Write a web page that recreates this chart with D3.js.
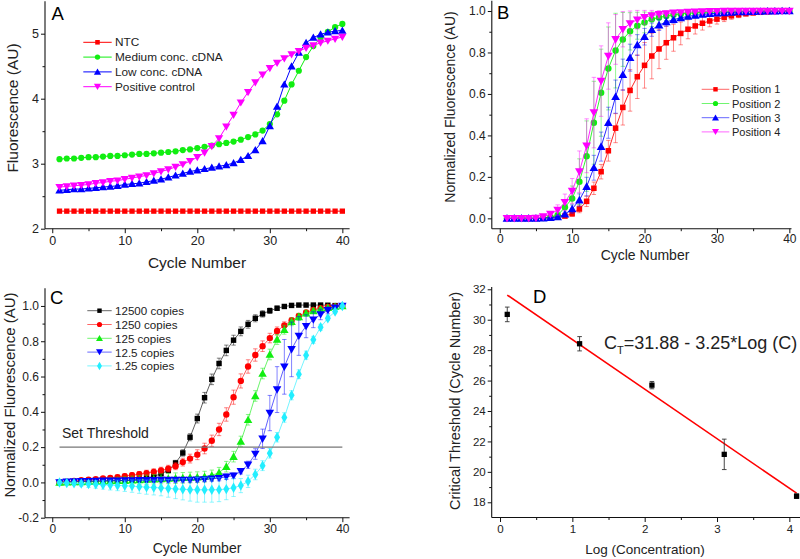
<!DOCTYPE html>
<html><head><meta charset="utf-8">
<script src="https://cdn.jsdelivr.net/npm/d3@7"></script>
<style>body{margin:0;background:#fff}svg{display:block}text{font-family:"Liberation Sans",Arial,Helvetica,sans-serif}</style>
</head><body><svg id="c" width="800" height="559"></svg>
<script>
// ---------- DATA ----------
const cycles = [1,2,3,4,5,6,7,8,9,10,11,12,13,14,15,16,17,18,19,20,21,22,23,24,25,26,27,28,29,30,31,32,33,34,35,36,37,38,39,40];

// Panel A
const labelsA = ["NTC","Medium conc. cDNA","Low conc. cDNA","Positive control"];
const ntc = [2.27,2.27,2.27,2.27,2.27,2.27,2.27,2.27,2.27,2.27,2.27,2.27,2.27,2.27,2.27,2.27,2.27,2.27,2.27,2.27,2.27,2.27,2.27,2.27,2.27,2.27,2.27,2.27,2.27,2.27,2.27,2.27,2.27,2.27,2.27,2.27,2.27,2.27,2.27,2.27];
const mediumConc = [3.07,3.08,3.08,3.09,3.10,3.10,3.11,3.12,3.12,3.13,3.14,3.15,3.15,3.16,3.17,3.18,3.19,3.21,3.22,3.24,3.26,3.28,3.30,3.32,3.34,3.37,3.41,3.45,3.51,3.61,3.76,3.97,4.22,4.43,4.64,4.81,4.94,5.03,5.10,5.15];
const lowConc = [2.59,2.60,2.61,2.61,2.62,2.63,2.64,2.65,2.66,2.68,2.69,2.70,2.72,2.74,2.76,2.79,2.82,2.85,2.88,2.90,2.92,2.94,2.96,2.98,3.01,3.06,3.12,3.21,3.35,3.58,3.88,4.22,4.50,4.71,4.86,4.94,4.99,5.02,5.04,5.05];
const positiveCtrl = [2.64,2.65,2.66,2.67,2.68,2.70,2.71,2.73,2.74,2.76,2.78,2.80,2.82,2.85,2.88,2.91,2.95,2.99,3.04,3.10,3.17,3.27,3.39,3.57,3.75,3.94,4.10,4.25,4.37,4.47,4.55,4.62,4.68,4.73,4.78,4.82,4.86,4.89,4.92,4.95];

// Panel B
const labelsB = ["Position 1","Position 2","Position 3","Position 4"];
const pos1 = [0,0,0,0,0,0.002,0.004,0.007,0.011,0.022,0.045,0.082,0.145,0.225,0.326,0.435,0.535,0.617,0.683,0.738,0.783,0.817,0.847,0.871,0.892,0.912,0.928,0.941,0.952,0.961,0.969,0.977,0.982,0.987,0.991,0.994,0.996,0.998,0.999,1.0];
const pos1Err = [0,0,0,0,0,0,0.003,0.005,0.008,0.012,0.018,0.025,0.03,0.035,0.05,0.07,0.085,0.1,0.105,0.11,0.11,0.095,0.08,0.065,0.055,0.046,0.039,0.033,0.028,0.024,0.02,0.017,0.014,0.011,0.009,0.007,0.005,0.003,0.002,0];
const pos2 = [0,0,0,0,0,0.002,0.005,0.015,0.053,0.096,0.177,0.30,0.461,0.606,0.723,0.809,0.863,0.902,0.929,0.945,0.960,0.969,0.976,0.982,0.986,0.989,0.992,0.994,0.995,0.996,0.997,0.998,0.998,0.999,0.999,0.999,1.0,1.0,1.0,1.0];
const pos2Err = [0,0,0,0,0,0,0.005,0.015,0.035,0.06,0.11,0.17,0.2,0.21,0.2,0.18,0.13,0.09,0.065,0.05,0.035,0.028,0.022,0.017,0.013,0.01,0.008,0.006,0.005,0.004,0.003,0.002,0.002,0.001,0.001,0.001,0,0,0,0];
const pos3 = [0,0,0,0,0,0.001,0.003,0.007,0.02,0.045,0.088,0.153,0.244,0.346,0.461,0.587,0.693,0.775,0.836,0.876,0.910,0.932,0.947,0.958,0.967,0.974,0.979,0.983,0.987,0.989,0.991,0.993,0.995,0.996,0.997,0.998,0.999,0.999,1.0,1.0];
const pos3Err = [0,0,0,0,0,0,0.002,0.005,0.01,0.02,0.03,0.045,0.06,0.07,0.075,0.08,0.075,0.065,0.05,0.04,0.032,0.026,0.02,0.016,0.013,0.01,0.008,0.006,0.005,0.004,0.003,0.002,0.002,0.001,0.001,0,0,0,0,0];
const pos4 = [0,0,0,0,0.001,0.008,0.02,0.04,0.077,0.132,0.225,0.35,0.51,0.662,0.783,0.863,0.912,0.94,0.958,0.97,0.978,0.984,0.988,0.991,0.993,0.995,0.996,0.997,0.998,0.999,1.0,1.0,1.0,1.0,1.0,1.0,1.0,1.0,1.0,1.0];
const pos4Err = [0,0,0,0,0,0.005,0.012,0.025,0.04,0.06,0.1,0.13,0.17,0.17,0.16,0.12,0.085,0.06,0.045,0.033,0.025,0.018,0.013,0.01,0.007,0.005,0.004,0.003,0.002,0.001,0,0,0,0,0,0,0,0,0,0];

// Panel C
const labelsC = ["12500 copies","1250 copies","125 copies","12.5 copies","1.25 copies"];
const c12500 = [0,0.002,0.004,0.005,0.006,0.007,0.008,0.009,0.01,0.012,0.015,0.019,0.025,0.034,0.049,0.068,0.11,0.167,0.256,0.362,0.48,0.584,0.674,0.748,0.806,0.856,0.896,0.93,0.955,0.973,0.987,0.997,1.003,1.005,1.005,1.005,1.005,1.004,1.002,1.0];
const c12500Err = [0,0.005,0.006,0.007,0.008,0.008,0.009,0.009,0.01,0.01,0.011,0.011,0.012,0.012,0.012,0.013,0.015,0.018,0.02,0.025,0.03,0.03,0.03,0.03,0.028,0.025,0.022,0.02,0.018,0.015,0.012,0.01,0.008,0.008,0.007,0.006,0.005,0.004,0.003,0];
const c1250 = [0,0.004,0.008,0.012,0.016,0.019,0.022,0.026,0.03,0.036,0.041,0.047,0.053,0.06,0.068,0.078,0.092,0.115,0.135,0.157,0.192,0.236,0.30,0.385,0.483,0.575,0.657,0.722,0.772,0.818,0.858,0.89,0.918,0.944,0.963,0.978,0.988,0.995,0.998,1.0];
const c1250Err = [0,0.005,0.006,0.007,0.008,0.009,0.01,0.011,0.012,0.013,0.014,0.015,0.016,0.017,0.018,0.019,0.02,0.022,0.025,0.028,0.03,0.032,0.035,0.038,0.04,0.04,0.038,0.035,0.03,0.027,0.023,0.02,0.016,0.012,0.01,0.008,0.006,0.004,0.002,0];
const c125 = [0,0.001,0.002,0.003,0.004,0.005,0.006,0.008,0.009,0.01,0.012,0.014,0.016,0.018,0.02,0.022,0.024,0.026,0.028,0.03,0.033,0.04,0.055,0.089,0.146,0.232,0.355,0.49,0.617,0.725,0.81,0.865,0.91,0.938,0.958,0.972,0.982,0.99,0.996,1.0];
const c125Err = [0,0.005,0.008,0.01,0.012,0.014,0.016,0.018,0.02,0.022,0.024,0.025,0.026,0.027,0.028,0.029,0.03,0.03,0.03,0.03,0.03,0.03,0.03,0.03,0.03,0.03,0.03,0.03,0.03,0.03,0.028,0.025,0.022,0.02,0.017,0.014,0.01,0.007,0.004,0];
const c12_5 = [0,0.003,0.005,0.006,0.007,0.008,0.009,0.01,0.01,0.011,0.011,0.012,0.012,0.012,0.013,0.013,0.013,0.014,0.014,0.015,0.017,0.02,0.024,0.032,0.038,0.063,0.10,0.161,0.247,0.393,0.526,0.655,0.754,0.83,0.885,0.922,0.952,0.975,0.99,1.0];
const c12_5Err = [0,0.006,0.007,0.008,0.008,0.009,0.009,0.01,0.01,0.01,0.01,0.011,0.011,0.011,0.011,0.012,0.012,0.012,0.012,0.012,0.013,0.013,0.015,0.015,0.015,0.015,0.02,0.03,0.055,0.1,0.13,0.155,0.155,0.11,0.065,0.045,0.03,0.02,0.01,0];
const c1_25 = [0,-0.003,-0.005,-0.007,-0.009,-0.011,-0.013,-0.015,-0.017,-0.019,-0.021,-0.024,-0.027,-0.029,-0.031,-0.034,-0.037,-0.039,-0.041,-0.042,-0.042,-0.042,-0.041,-0.038,-0.03,-0.018,0.006,0.045,0.095,0.165,0.256,0.368,0.494,0.613,0.721,0.808,0.879,0.93,0.968,1.0];
const c1_25Err = [0,0.005,0.01,0.015,0.02,0.022,0.025,0.028,0.03,0.032,0.035,0.038,0.04,0.042,0.045,0.05,0.055,0.06,0.065,0.07,0.07,0.07,0.068,0.06,0.05,0.04,0.035,0.03,0.028,0.027,0.027,0.027,0.026,0.025,0.023,0.02,0.017,0.013,0.008,0];
const thresholdValue = 0.2;
const thresholdSpan = [1, 40];

// Panel D
const logConc = [0.1, 1.1, 2.1, 3.1, 4.1];
const ctValues = [30.35, 28.42, 25.7, 21.15, 18.4];
const ctErr = [0.48, 0.47, 0.24, 1.0, 0.15];
const fitX = [0.1, 4.1];
const fitY = [31.62, 18.6];

// Ticks
const xTicksCycle = [0,10,20,30,40], xMinorCycle = [5,15,25,35];
const yTicksA = [2,3,4,5], yMinorA = [2.5,3.5,4.5];
const yTicksB = [0,0.2,0.4,0.6,0.8,1.0], yMinorB = [0.1,0.3,0.5,0.7,0.9];
const yTicksC = [-0.2,0,0.2,0.4,0.6,0.8,1.0], yMinorC = [-0.1,0.1,0.3,0.5,0.7,0.9];
const xTicksD = [0,1,2,3,4], xMinorD = [0.5,1.5,2.5,3.5];
const yTicksD = [18,20,22,24,26,28,30,32], yMinorD = [19,21,23,25,27,29,31];

// ---------- DRAWING ----------
const svg = d3.select("#c");
const RED="#ff0000", GREEN="#11ee11", BLUE="#0000ff", MAG="#ff00ff", CYAN="#22eeff", BLK="#000000";
const fmt1 = d => d3.format(".1f")(d).replace("\u2212","-");
const fmt0 = d => String(d);

const sym = {
  square: d3.symbol().type(d3.symbolSquare),
  circle: d3.symbol().type(d3.symbolCircle),
  up: d3.symbol().type(d3.symbolTriangle),
  down: d3.symbol().type(d3.symbolTriangle),
  diamond: d3.symbol().type(d3.symbolDiamond)
};
const symSize = {square: 28, circle: 30, up: 30, down: 30, diamond: 30};

function marker(g, shape, cx, cy, color, scale) {
  const s = symSize[shape] * (scale || 1);
  let tr = `translate(${cx},${cy})`;
  if (shape === "up") tr = `translate(${cx},${cy+0.8})`;
  if (shape === "down") tr = `translate(${cx},${cy-0.8}) rotate(180)`;
  g.append("path").attr("d", sym[shape].size(s)()).attr("transform", tr).attr("fill", color);
}

function axes(g, x, y, o) {
  const [x0, x1] = x.range(), [y0, y1] = y.range();
  const bx = g.append("g").attr("transform", `translate(0,${y0})`);
  bx.call(d3.axisBottom(x).tickValues(o.xMajor).tickSize(4.5).tickSizeOuter(0).tickPadding(o.xPad || 2.5).tickFormat(o.xFmt));
  bx.append("g").call(d3.axisBottom(x).tickValues(o.xMinor).tickSize(2.5).tickSizeOuter(0).tickFormat(""));
  const by = g.append("g").attr("transform", `translate(${x0},0)`);
  by.call(d3.axisLeft(y).tickValues(o.yMajor).tickSize(4).tickSizeOuter(0).tickPadding(2).tickFormat(o.yFmt));
  by.append("g").call(d3.axisLeft(y).tickValues(o.yMinor).tickSize(2.5).tickSizeOuter(0).tickFormat(""));
  g.selectAll(".domain").remove();
  g.selectAll(".tick line").attr("stroke", "#111").attr("stroke-width", 1);
  g.selectAll(".tick text").attr("font-size", o.tickFont).attr("fill", "#222")
    .attr("font-family", '"Liberation Sans",Arial,sans-serif');
  g.append("line").attr("x1", x0).attr("x2", x1).attr("y1", y0).attr("y2", y0).attr("stroke", "#111").attr("stroke-width", 1.1);
  g.append("line").attr("x1", x0).attr("x2", x0).attr("y1", y0).attr("y2", y1).attr("stroke", "#111").attr("stroke-width", 1.1);
  g.append("text").attr("x", o.xt[0]).attr("y", o.xt[1]).attr("text-anchor", "middle")
    .attr("font-size", o.xt[2]).attr("fill", "#222").text(o.xTitle);
  g.append("text").attr("transform", `translate(${o.yt[0]},${o.yt[1]}) rotate(-90)`)
    .attr("text-anchor", "middle").attr("dominant-baseline", "central")
    .attr("font-size", o.yt[2]).attr("fill", "#222").text(o.yTitle);
  g.append("text").attr("x", o.pl[0]).attr("y", o.pl[1]).attr("font-size", 18.5).attr("fill", "#000").text(o.panel);
}

function series(g, x, y, xs, ys, errs, color, shape, o) {
  if (errs) {
    const eg = g.append("g").attr("stroke", color).attr("stroke-opacity", o.errOpacity).attr("stroke-width", 0.9);
    xs.forEach((xv, i) => {
      const e = errs[i]; if (!e) return;
      const px = x(xv), pt = y(ys[i] + e), pb = y(ys[i] - e);
      eg.append("line").attr("x1", px).attr("x2", px).attr("y1", pt).attr("y2", pb);
      eg.append("line").attr("x1", px - 2.2).attr("x2", px + 2.2).attr("y1", pt).attr("y2", pt);
      eg.append("line").attr("x1", px - 2.2).attr("x2", px + 2.2).attr("y1", pb).attr("y2", pb);
    });
  }
  const pts = xs.map((xv, i) => [x(xv), y(ys[i])]);
  g.append("path").attr("d", d3.line()(pts)).attr("fill", "none").attr("stroke", color)
    .attr("stroke-opacity", o.lineOpacity).attr("stroke-width", o.lineWidth);
  const mg = g.append("g");
  pts.forEach(p => marker(mg, shape, p[0], p[1], color, o.mScale));
}

function legend(g, items, o) {
  items.forEach((it, i) => {
    const yy = o.y0 + i * o.dy;
    g.append("line").attr("x1", o.x1).attr("x2", o.x2).attr("y1", yy).attr("y2", yy)
      .attr("stroke", it.color).attr("stroke-opacity", o.lineOpacity).attr("stroke-width", o.lineWidth);
    marker(g, it.shape, (o.x1 + o.x2) / 2, yy, it.color, o.mScale);
    g.append("text").attr("x", o.tx).attr("y", yy).attr("dominant-baseline", "central")
      .attr("font-size", o.font).attr("fill", "#222").text(it.label);
  });
}

// ---- Panel A ----
(function(){
  const g = svg.append("g");
  const x = d3.scaleLinear().domain([-1, 41]).range([45, 349.6]);
  const y = d3.scaleLinear().domain([2, 5.5]).range([228.7, 1.2]);
  axes(g, x, y, {xMajor: xTicksCycle, xMinor: xMinorCycle, yMajor: yTicksA, yMinor: yMinorA,
    xFmt: fmt0, yFmt: fmt0, tickFont: 12.5, xTitle: "Cycle Number", yTitle: "Fluorescence (AU)",
    xt: [197, 268, 15.5], yt: [12, 108, 15.5], pl: [51.5, 20], panel: "A"});
  const st = {lineOpacity: 1, errOpacity: 0.6, lineWidth: 1, mScale: 1};
  series(g, x, y, cycles, ntc, null, RED, "square", st);
  series(g, x, y, cycles, mediumConc, null, GREEN, "circle", st);
  series(g, x, y, cycles, lowConc, null, BLUE, "up", st);
  series(g, x, y, cycles, positiveCtrl, null, MAG, "down", st);
  legend(g, [
    {label: labelsA[0], color: RED, shape: "square"},
    {label: labelsA[1], color: GREEN, shape: "circle"},
    {label: labelsA[2], color: BLUE, shape: "up"},
    {label: labelsA[3], color: MAG, shape: "down"}],
    {x1: 83.3, x2: 111.7, tx: 115, y0: 42.3, dy: 14.8, font: 11.8, lineOpacity: 1, lineWidth: 1, mScale: 0.75});
})();

// ---- Panel B ----
(function(){
  const g = svg.append("g");
  const x = d3.scaleLinear().domain([-1.1, 40.3]).range([491.8, 791.5]);
  const y = d3.scaleLinear().domain([-0.05, 1.05]).range([228.7, 0.65]);
  axes(g, x, y, {xMajor: xTicksCycle, xMinor: xMinorCycle, yMajor: yTicksB, yMinor: yMinorB,
    xFmt: fmt0, yFmt: fmt1, tickFont: 12, xPad: 1.5, xTitle: "Cycle Number", yTitle: "Normalized Fluorescence (AU)",
    xt: [645, 259.5, 14], yt: [450, 107, 14], pl: [497, 18.5], panel: "B"});
  const st = {lineOpacity: 0.85, errOpacity: 0.5, lineWidth: 1, mScale: 1.1};
  series(g, x, y, cycles, pos1, pos1Err, RED, "square", st);
  series(g, x, y, cycles, pos2, pos2Err, GREEN, "circle", st);
  series(g, x, y, cycles, pos3, pos3Err, BLUE, "up", st);
  series(g, x, y, cycles, pos4, pos4Err, MAG, "down", st);
  legend(g, [
    {label: labelsB[0], color: RED, shape: "square"},
    {label: labelsB[1], color: GREEN, shape: "circle"},
    {label: labelsB[2], color: BLUE, shape: "up"},
    {label: labelsB[3], color: MAG, shape: "down"}],
    {x1: 701.7, x2: 729.3, tx: 732, y0: 89.3, dy: 14.2, font: 11, lineOpacity: 0.6, lineWidth: 1, mScale: 0.7});
})();

// ---- Panel C ----
(function(){
  const g = svg.append("g");
  const x = d3.scaleLinear().domain([-1, 41]).range([45, 349.6]);
  const y = d3.scaleLinear().domain([-0.2, 1.1]).range([517.7, 288.3]);
  axes(g, x, y, {xMajor: xTicksCycle, xMinor: xMinorCycle, yMajor: yTicksC, yMinor: yMinorC,
    xFmt: fmt0, yFmt: fmt1, tickFont: 12, xTitle: "Cycle Number", yTitle: "Normalized Fluorescence (AU)",
    xt: [197, 553, 14], yt: [9, 395, 15], pl: [50, 304], panel: "C"});
  const st = {lineOpacity: 0.7, errOpacity: 0.55, lineWidth: 0.9, mScale: 1.05};
  series(g, x, y, cycles, c12500, c12500Err, BLK, "square", st);
  series(g, x, y, cycles, c1250, c1250Err, RED, "circle", st);
  series(g, x, y, cycles, c125, c125Err, GREEN, "up", st);
  series(g, x, y, cycles, c12_5, c12_5Err, BLUE, "down", st);
  series(g, x, y, cycles, c1_25, c1_25Err, CYAN, "diamond", st);
  g.append("line").attr("x1", x(thresholdSpan[0])).attr("x2", x(thresholdSpan[1]))
    .attr("y1", y(thresholdValue)).attr("y2", y(thresholdValue)).attr("stroke", "#777").attr("stroke-width", 1.2);
  g.append("text").attr("x", 62).attr("y", 437.5).attr("font-size", 14).attr("fill", "#222").text("Set Threshold");
  legend(g, [
    {label: labelsC[0], color: BLK, shape: "square"},
    {label: labelsC[1], color: RED, shape: "circle"},
    {label: labelsC[2], color: GREEN, shape: "up"},
    {label: labelsC[3], color: BLUE, shape: "down"},
    {label: labelsC[4], color: CYAN, shape: "diamond"}],
    {x1: 87.3, x2: 111.7, tx: 115, y0: 310.7, dy: 13.8, font: 11.6, lineOpacity: 0.6, lineWidth: 1, mScale: 0.7});
})();

// ---- Panel D ----
(function(){
  const g = svg.append("g");
  const x = d3.scaleLinear().domain([-0.115, 4.15]).range([491.7, 800.2]);
  const y = d3.scaleLinear().domain([17, 32.15]).range([517.5, 287]);
  axes(g, x, y, {xMajor: xTicksD, xMinor: xMinorD, yMajor: yTicksD, yMinor: yMinorD,
    xFmt: fmt0, yFmt: fmt0, tickFont: 11.5, xTitle: "Log (Concentration)", yTitle: "Critical Threshold (Cycle Number)",
    xt: [645, 554, 13.5], yt: [455, 401, 14.5], pl: [533, 302.5], panel: "D"});
  g.append("path").attr("d", d3.line()(fitX.map((v, i) => [x(v), y(fitY[i])])))
    .attr("stroke", RED).attr("stroke-width", 1.6).attr("fill", "none");
  const eg = g.append("g").attr("stroke", "#333").attr("stroke-width", 0.9);
  logConc.forEach((v, i) => {
    const px = x(v), pt = y(ctValues[i] + ctErr[i]), pb = y(ctValues[i] - ctErr[i]);
    eg.append("line").attr("x1", px).attr("x2", px).attr("y1", pt).attr("y2", pb);
    eg.append("line").attr("x1", px - 2.3).attr("x2", px + 2.3).attr("y1", pt).attr("y2", pt);
    eg.append("line").attr("x1", px - 2.3).attr("x2", px + 2.3).attr("y1", pb).attr("y2", pb);
    marker(g, "square", px, y(ctValues[i]), BLK, 1);
  });
  const t = g.append("text").attr("x", 604).attr("y", 349).attr("font-size", 18).attr("fill", "#222");
  t.append("tspan").text("C");
  t.append("tspan").attr("font-size", 11).attr("dy", 5).text("T");
  t.append("tspan").attr("dy", -5).text("=31.88 - 3.25*Log (C)");
})();
</script></body></html>
